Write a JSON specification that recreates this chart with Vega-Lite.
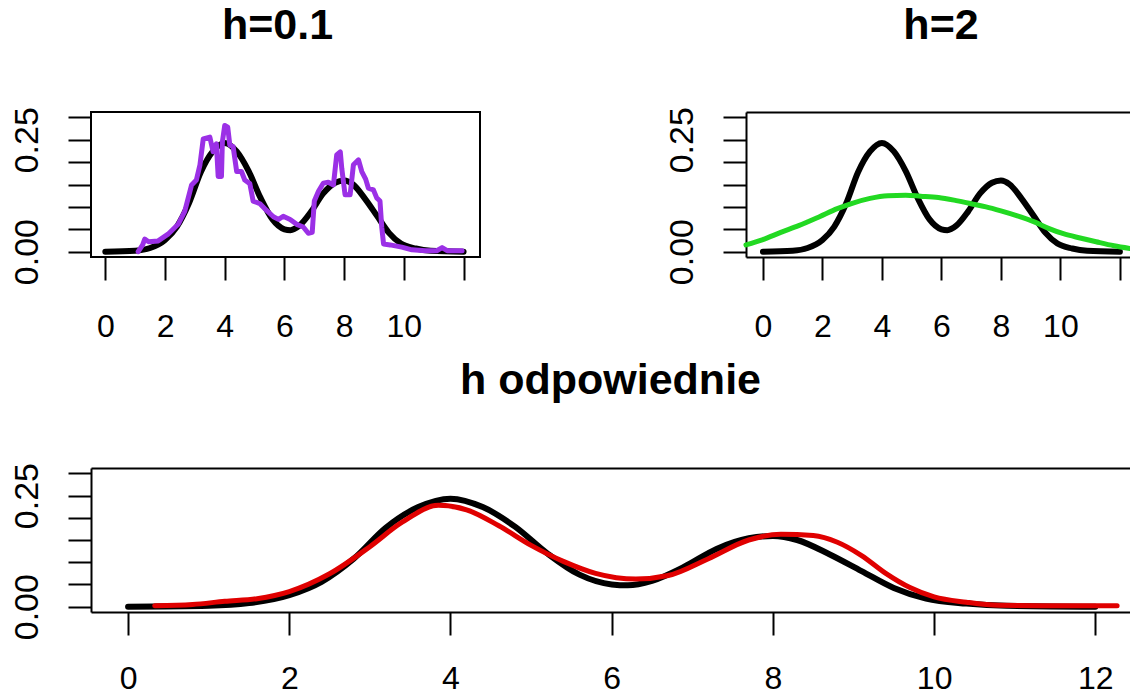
{
  "$schema": "https://vega.github.io/schema/vega-lite/v6.json",
  "background": "white",
  "padding": {"left": 0, "top": 3, "right": 0, "bottom": 0},
  "spacing": 12,
  "config": {
    "view": {"stroke": null},
    "axis": {"grid": false, "title": null, "labelFont": "Liberation Sans", "labelFontSize": 32, "labelColor": "black", "tickColor": "black", "tickWidth": 2, "tickSize": 23, "domainColor": "black", "domainWidth": 2, "labelOverlap": false, "labelFlush": false, "tickCount": 20},
    "axisX": {"labelPadding": 31, "minExtent": 90, "format": "d"},
    "axisY": {"labelAngle": -90, "labelAlign": "center", "labelBaseline": "alphabetic", "labelPadding": 31, "minExtent": 90, "labelFontSize": 34},
    "title": {"font": "Liberation Sans", "fontSize": 43, "fontWeight": "bold", "color": "black", "anchor": "middle", "baseline": "alphabetic", "offset": 59},
    "line": {"strokeWidth": 5, "clip": true, "strokeCap": "round", "strokeJoin": "round"}
  },
  "datasets": {
    "black": [
      {"x": 0, "y": 0.0}, {"x": 1.0, "y": 0.002}, {"x": 1.5, "y": 0.008}, {"x": 2.0, "y": 0.026},
      {"x": 2.4, "y": 0.056}, {"x": 2.8, "y": 0.108}, {"x": 3.2, "y": 0.178}, {"x": 3.6, "y": 0.224},
      {"x": 4.0, "y": 0.243}, {"x": 4.4, "y": 0.224}, {"x": 4.8, "y": 0.18}, {"x": 5.2, "y": 0.12},
      {"x": 5.6, "y": 0.072}, {"x": 6.0, "y": 0.05}, {"x": 6.2, "y": 0.048}, {"x": 6.5, "y": 0.058},
      {"x": 6.9, "y": 0.09}, {"x": 7.3, "y": 0.13}, {"x": 7.7, "y": 0.154}, {"x": 8.0, "y": 0.159},
      {"x": 8.3, "y": 0.15}, {"x": 8.7, "y": 0.118}, {"x": 9.1, "y": 0.08}, {"x": 9.5, "y": 0.042},
      {"x": 9.9, "y": 0.018}, {"x": 10.4, "y": 0.007}, {"x": 10.9, "y": 0.002}, {"x": 12.0, "y": 0.0}
    ],
    "purple": [
      {"x": 1.1, "y": 0.0}, {"x": 1.25, "y": 0.015}, {"x": 1.32, "y": 0.028}, {"x": 1.45, "y": 0.022},
      {"x": 1.77, "y": 0.024}, {"x": 2.1, "y": 0.039}, {"x": 2.44, "y": 0.061}, {"x": 2.66, "y": 0.09},
      {"x": 2.89, "y": 0.149}, {"x": 3.05, "y": 0.16}, {"x": 3.17, "y": 0.194}, {"x": 3.28, "y": 0.252},
      {"x": 3.5, "y": 0.256}, {"x": 3.61, "y": 0.223}, {"x": 3.72, "y": 0.241}, {"x": 3.78, "y": 0.168},
      {"x": 3.89, "y": 0.168}, {"x": 3.92, "y": 0.245}, {"x": 4.0, "y": 0.282}, {"x": 4.1, "y": 0.278},
      {"x": 4.17, "y": 0.238}, {"x": 4.28, "y": 0.235}, {"x": 4.4, "y": 0.179}, {"x": 4.56, "y": 0.179},
      {"x": 4.67, "y": 0.16}, {"x": 4.84, "y": 0.152}, {"x": 4.95, "y": 0.113}, {"x": 5.18, "y": 0.107},
      {"x": 5.4, "y": 0.092}, {"x": 5.63, "y": 0.078}, {"x": 5.8, "y": 0.072}, {"x": 5.96, "y": 0.079},
      {"x": 6.19, "y": 0.072}, {"x": 6.41, "y": 0.061}, {"x": 6.63, "y": 0.055}, {"x": 6.8, "y": 0.041},
      {"x": 6.93, "y": 0.043}, {"x": 7.0, "y": 0.113}, {"x": 7.14, "y": 0.135}, {"x": 7.3, "y": 0.153},
      {"x": 7.47, "y": 0.155}, {"x": 7.64, "y": 0.149}, {"x": 7.75, "y": 0.216}, {"x": 7.87, "y": 0.223},
      {"x": 7.92, "y": 0.186}, {"x": 8.03, "y": 0.127}, {"x": 8.2, "y": 0.127}, {"x": 8.31, "y": 0.194},
      {"x": 8.48, "y": 0.205}, {"x": 8.59, "y": 0.179}, {"x": 8.72, "y": 0.162}, {"x": 8.81, "y": 0.142},
      {"x": 8.98, "y": 0.138}, {"x": 9.09, "y": 0.12}, {"x": 9.2, "y": 0.113}, {"x": 9.26, "y": 0.054},
      {"x": 9.32, "y": 0.017}, {"x": 9.54, "y": 0.015}, {"x": 9.93, "y": 0.01}, {"x": 10.27, "y": 0.004},
      {"x": 10.72, "y": 0.002}, {"x": 11.1, "y": 0.002}, {"x": 11.28, "y": 0.009}, {"x": 11.45, "y": 0.002},
      {"x": 11.95, "y": 0.002}
    ],
    "green": [
      {"x": -0.57, "y": 0.015}, {"x": 0.0, "y": 0.027}, {"x": 0.6, "y": 0.043}, {"x": 1.2, "y": 0.058},
      {"x": 1.9, "y": 0.078}, {"x": 2.5, "y": 0.096}, {"x": 3.0, "y": 0.108}, {"x": 3.6, "y": 0.119},
      {"x": 4.2, "y": 0.125}, {"x": 4.8, "y": 0.126}, {"x": 5.3, "y": 0.124}, {"x": 5.9, "y": 0.121},
      {"x": 6.5, "y": 0.114}, {"x": 7.0, "y": 0.107}, {"x": 7.5, "y": 0.1}, {"x": 8.0, "y": 0.091},
      {"x": 8.5, "y": 0.081}, {"x": 9.1, "y": 0.067}, {"x": 9.6, "y": 0.052}, {"x": 10.1, "y": 0.04},
      {"x": 10.7, "y": 0.03}, {"x": 11.2, "y": 0.022}, {"x": 11.8, "y": 0.013}, {"x": 12.34, "y": 0.007}
    ],
    "red": [
      {"x": 0.33, "y": 0.002}, {"x": 0.8, "y": 0.005}, {"x": 1.2, "y": 0.012}, {"x": 1.6, "y": 0.018},
      {"x": 2.0, "y": 0.034}, {"x": 2.5, "y": 0.074}, {"x": 3.0, "y": 0.135}, {"x": 3.4, "y": 0.19},
      {"x": 3.85, "y": 0.228}, {"x": 4.2, "y": 0.218}, {"x": 4.6, "y": 0.182}, {"x": 5.0, "y": 0.138},
      {"x": 5.4, "y": 0.102}, {"x": 5.8, "y": 0.075}, {"x": 6.3, "y": 0.062}, {"x": 6.7, "y": 0.07},
      {"x": 7.2, "y": 0.108}, {"x": 7.7, "y": 0.15}, {"x": 8.1, "y": 0.163}, {"x": 8.5, "y": 0.16},
      {"x": 8.8, "y": 0.145}, {"x": 9.1, "y": 0.115}, {"x": 9.4, "y": 0.075}, {"x": 9.7, "y": 0.043},
      {"x": 10.0, "y": 0.022}, {"x": 10.4, "y": 0.01}, {"x": 10.8, "y": 0.003}, {"x": 11.5, "y": 0.002},
      {"x": 12.27, "y": 0.002}
    ]
  },
  "vconcat": [
    {
      "spacing": 175,
      "hconcat": [
        {
          "width": 389, "height": 145,
          "view": {"stroke": "black", "strokeWidth": 2},
          "title": {"text": "h=0.1", "dx": -8},
          "layer": [
            {
              "data": {"name": "black"},
              "mark": {"type": "line", "color": "black", "strokeWidth": 6, "interpolate": "monotone"},
              "encoding": {
                "x": {"field": "x", "type": "quantitative", "scale": {"domain": [-0.48, 12.55], "nice": false, "zero": false},
                      "axis": {"values": [0, 2, 4, 6, 8, 10, 12], "domain": false, "labelExpr": "datum.value == 12 ? '' : datum.label"}},
                "y": {"field": "y", "type": "quantitative", "scale": {"domain": [-0.012, 0.312], "nice": false, "zero": false},
                      "axis": {"values": [0, 0.05, 0.1, 0.15, 0.2, 0.25, 0.3], "domain": false, "labelExpr": "abs(datum.value) < 0.001 ? '0.00' : (abs(datum.value - 0.25) < 0.001 ? '0.25' : '')"}}
              }
            },
            {
              "data": {"name": "purple"},
              "mark": {"type": "line", "color": "#9b30e6", "strokeWidth": 5},
              "encoding": {
                "x": {"field": "x", "type": "quantitative"},
                "y": {"field": "y", "type": "quantitative"}
              }
            }
          ]
        },
        {
          "width": 384, "height": 145,
          "title": {"text": "h=2", "dx": 3},
          "resolve": {"axis": {"x": "independent"}},
          "layer": [
            {
              "data": {"name": "black"},
              "mark": {"type": "line", "color": "black", "strokeWidth": 6, "interpolate": "monotone"},
              "encoding": {
                "x": {"field": "x", "type": "quantitative", "scale": {"domain": [-0.57, 12.34], "nice": false, "zero": false},
                      "axis": {"values": [0, 2, 4, 6, 8, 10, 12], "domain": true, "labelExpr": "datum.value == 12 ? '' : datum.label"}},
                "y": {"field": "y", "type": "quantitative", "scale": {"domain": [-0.012, 0.312], "nice": false, "zero": false},
                      "axis": {"values": [0, 0.05, 0.1, 0.15, 0.2, 0.25, 0.3], "domain": true, "labelExpr": "abs(datum.value) < 0.001 ? '0.00' : (abs(datum.value - 0.25) < 0.001 ? '0.25' : '')"}}
              }
            },
            {
              "data": {"name": "green"},
              "mark": {"type": "line", "color": "#22d922", "strokeWidth": 5, "interpolate": "monotone"},
              "encoding": {
                "x": {"field": "x", "type": "quantitative", "axis": {"orient": "top", "labels": false, "ticks": false, "domain": true, "minExtent": 0, "maxExtent": 0}},
                "y": {"field": "y", "type": "quantitative"}
              }
            }
          ]
        }
      ]
    },
    {
      "width": 1039, "height": 144,
      "title": {"text": "h odpowiednie", "dx": 0},
      "resolve": {"axis": {"x": "independent"}},
      "layer": [
        {
          "data": {"name": "black"},
          "mark": {"type": "line", "color": "black", "strokeWidth": 6, "interpolate": "monotone"},
          "encoding": {
            "x": {"field": "x", "type": "quantitative", "scale": {"domain": [-0.46, 12.43], "nice": false, "zero": false},
                  "axis": {"values": [0, 2, 4, 6, 8, 10, 12], "domain": true, "labelPadding": 28}},
            "y": {"field": "y", "type": "quantitative", "scale": {"domain": [-0.012, 0.312], "nice": false, "zero": false},
                  "axis": {"values": [0, 0.05, 0.1, 0.15, 0.2, 0.25, 0.3], "domain": true, "minExtent": 91, "labelExpr": "abs(datum.value) < 0.001 ? '0.00' : (abs(datum.value - 0.25) < 0.001 ? '0.25' : '')"}}
          }
        },
        {
          "data": {"name": "red"},
          "mark": {"type": "line", "color": "#e00000", "strokeWidth": 5, "interpolate": "monotone"},
          "encoding": {
            "x": {"field": "x", "type": "quantitative", "axis": {"orient": "top", "labels": false, "ticks": false, "domain": true, "minExtent": 0, "maxExtent": 0}},
            "y": {"field": "y", "type": "quantitative"}
          }
        }
      ]
    }
  ]
}
